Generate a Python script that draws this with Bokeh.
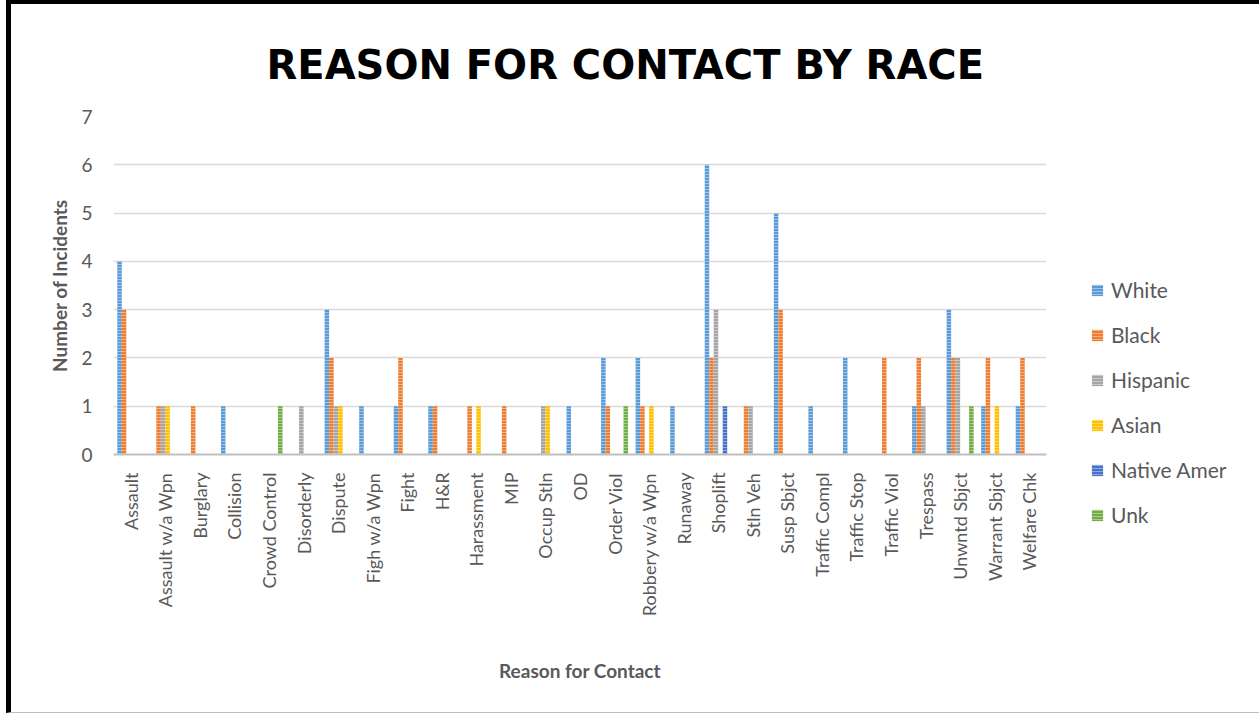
import math
from bokeh.plotting import figure
from bokeh.models import FactorRange, Legend, LegendItem, ColumnDataSource
from bokeh.transform import dodge
from bokeh.embed import file_html
from bokeh.resources import INLINE

categories = ["Assault", "Assault w/a Wpn", "Burglary", "Collision", "Crowd Control",
              "Disorderly", "Dispute", "Figh w/a Wpn", "Fight", "H&R", "Harassment",
              "MIP", "Occup Stln", "OD", "Order Viol", "Robbery w/a Wpn", "Runaway",
              "Shoplift", "Stln Veh", "Susp Sbjct", "Traffic Compl", "Traffic Stop",
              "Traffic Viol", "Trespass", "Unwntd Sbjct", "Warrant Sbjct", "Welfare Chk"]

white    = [4, 0, 0, 1, 0, 0, 3, 1, 1, 1, 0, 0, 0, 1, 2, 2, 1, 6, 0, 5, 1, 2, 0, 1, 3, 1, 1]
black    = [3, 1, 1, 0, 0, 0, 2, 0, 2, 1, 1, 1, 0, 0, 1, 1, 0, 2, 1, 3, 0, 0, 2, 2, 2, 2, 2]
hispanic = [0, 1, 0, 0, 0, 1, 1, 0, 0, 0, 0, 0, 1, 0, 0, 0, 0, 3, 1, 0, 0, 0, 0, 1, 2, 0, 0]
asian    = [0, 1, 0, 0, 0, 0, 1, 0, 0, 0, 1, 0, 1, 0, 0, 1, 0, 0, 0, 0, 0, 0, 0, 0, 0, 1, 0]
native   = [0, 0, 0, 0, 0, 0, 0, 0, 0, 0, 0, 0, 0, 0, 0, 0, 0, 1, 0, 0, 0, 0, 0, 0, 0, 0, 0]
unk      = [0, 0, 0, 0, 1, 0, 0, 0, 0, 0, 0, 0, 0, 0, 1, 0, 0, 0, 0, 0, 0, 0, 0, 0, 1, 0, 0]

series_names = ["White", "Black", "Hispanic", "Asian", "Native Amer", "Unk"]
series_values = [white, black, hispanic, asian, native, unk]
series_colors = ["#5B9BD5", "#ED7D31", "#A5A5A5", "#FFC000", "#4472C4", "#70AD47"]

TXT = "#595959"
FONT = "Lato"

p = figure(x_range=FactorRange(*categories), y_range=(0, 7),
           frame_width=933, frame_height=338,
           min_border_left=102, min_border_top=112, min_border_right=195, min_border_bottom=258,
           output_backend="svg", toolbar_location=None,
           title="REASON FOR CONTACT BY RACE")
p.styles = {"margin-left": "6px", "box-sizing": "content-box",
            "border-left": "5px solid black", "border-top": "4px solid black",
            "border-right": "4px solid black", "border-bottom": "1px solid #BFBFBF"}

p.title.text_font = "DejaVu Sans"
p.title.text_font_size = "40px"
p.title.text_font_style = "bold"
p.title.text_color = "black"
p.title.align = "left"
p.title.offset = 153
p.title.standoff = 58

bw = 0.13
items = []
data = {"cat": categories}
for name, vals in zip(series_names, series_values):
    data[name] = vals
src = ColumnDataSource(data)
for i, (name, color) in enumerate(zip(series_names, series_colors)):
    r = p.vbar(x=dodge("cat", (i - 2.5) * bw, range=p.x_range), top=name, width=bw,
               source=src, fill_color=color, line_color=None,
               hatch_pattern="horizontal_line", hatch_color="white", hatch_alpha=0.4,
               hatch_scale=3, hatch_weight=1)
    items.append(LegendItem(label=name, renderers=[r]))

legend = Legend(items=items, location=(44, -73))
legend.label_text_font = FONT
legend.label_text_font_size = "21px"
legend.label_text_color = TXT
legend.glyph_width = 14
legend.glyph_height = 14
legend.label_height = 25
legend.spacing = 20
legend.padding = 0
legend.margin = 0
legend.label_standoff = 7
legend.border_line_color = None
legend.background_fill_alpha = 0
p.add_layout(legend, "right")

p.outline_line_color = None
p.xgrid.grid_line_color = None
p.ygrid.grid_line_color = "#D9D9D9"
p.ygrid.grid_line_width = 1.5
p.yaxis.ticker = [0, 1, 2, 3, 4, 5, 6, 7]
p.x_range.range_padding = 0
p.x_range.factor_padding = 0

p.xaxis.axis_line_color = "#BFBFBF"
p.xaxis.axis_line_width = 2
p.xaxis.major_tick_line_color = None
p.xaxis.minor_tick_line_color = None
p.xaxis.major_label_orientation = math.pi / 2
p.xaxis.major_label_text_font = FONT
p.xaxis.major_label_text_font_size = "18px"
p.xaxis.major_label_text_color = TXT
p.xaxis.major_label_standoff = 12
p.xaxis.axis_label = "Reason for Contact"
p.xaxis.axis_label_text_font = FONT
p.xaxis.axis_label_text_font_size = "19px"
p.xaxis.axis_label_text_font_style = "bold"
p.xaxis.axis_label_text_color = TXT
p.xaxis.axis_label_standoff = 40

p.yaxis.axis_line_color = None
p.yaxis.major_tick_line_color = None
p.yaxis.minor_tick_line_color = None
p.yaxis.major_label_text_font = FONT
p.yaxis.major_label_text_font_size = "19px"
p.yaxis.major_label_text_color = TXT
p.yaxis.major_label_standoff = 15
p.yaxis.axis_label = "Number of Incidents"
p.yaxis.axis_label_text_font = FONT
p.yaxis.axis_label_text_font_size = "19px"
p.yaxis.axis_label_text_font_style = "bold"
p.yaxis.axis_label_text_color = TXT
p.yaxis.axis_label_standoff = 7

open("out.html", "w").write(file_html(p, INLINE))
